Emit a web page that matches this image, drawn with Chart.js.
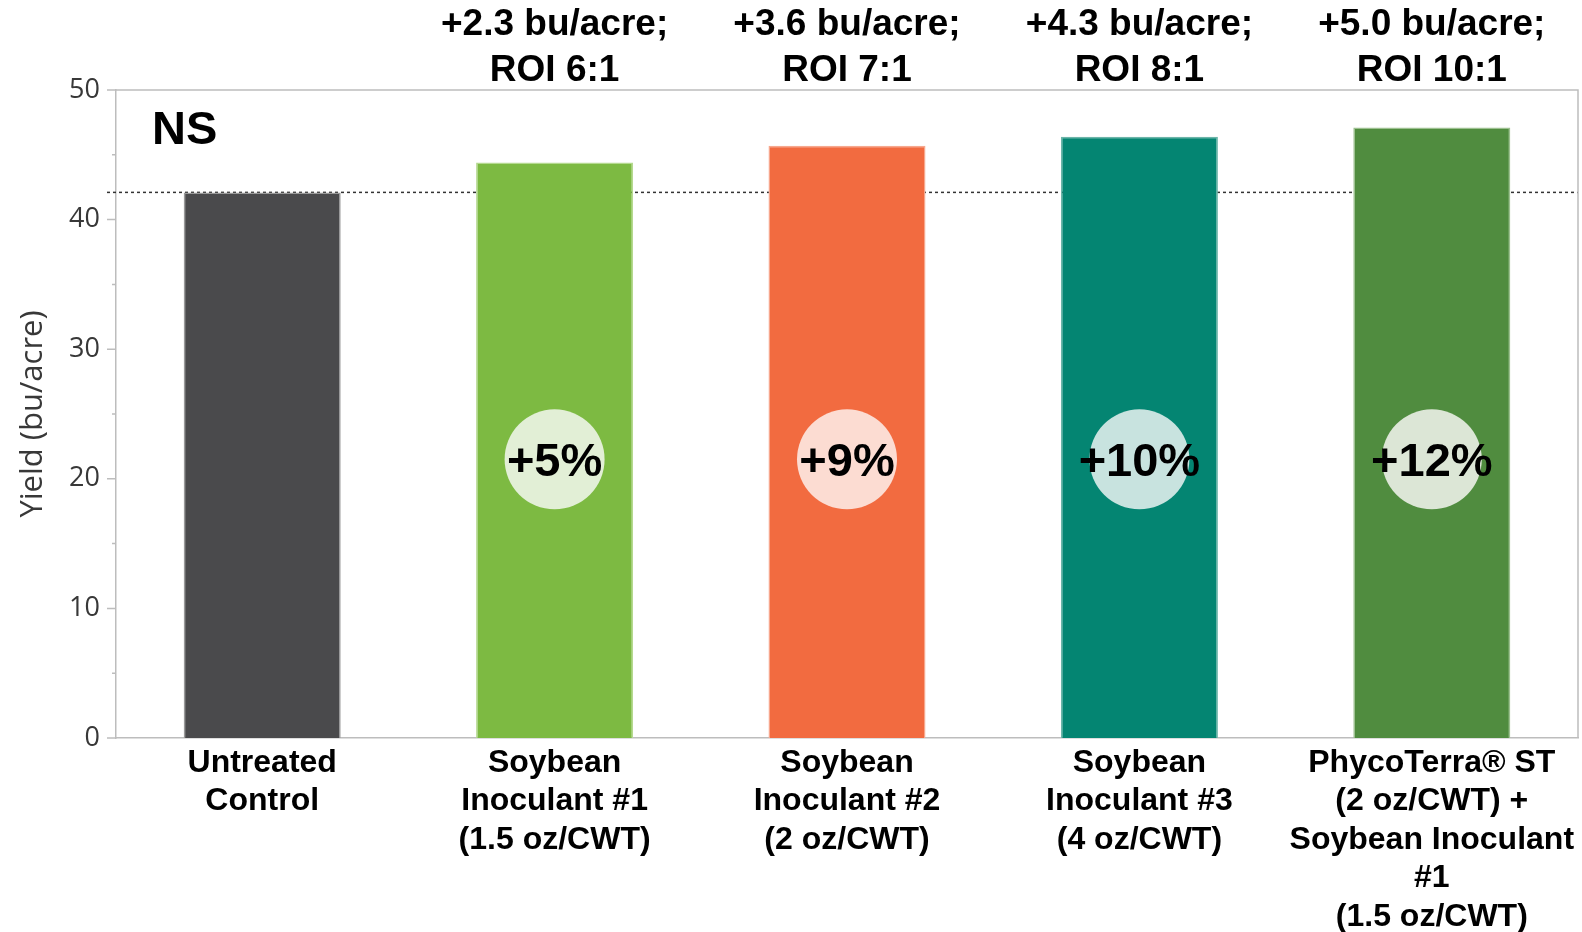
<!DOCTYPE html>
<html>
<head>
<meta charset="utf-8">
<script src="https://cdn.jsdelivr.net/npm/chart.js@4/dist/chart.umd.min.js"></script>
<style>
  html, body { margin: 0; padding: 0; background: #fff; }
  #wrap { width: 1582px; height: 932px; }
</style>
</head>
<body>
<div id="wrap"><canvas id="yieldChart" width="1582" height="932"></canvas></div>
<script>
// data
const categories = [
    ["Untreated", "Control"],
    ["Soybean", "Inoculant #1", "(1.5 oz/CWT)"],
    ["Soybean", "Inoculant #2", "(2 oz/CWT)"],
    ["Soybean", "Inoculant #3", "(4 oz/CWT)"],
    ["PhycoTerra® ST", "(2 oz/CWT) +", "Soybean Inoculant", "#1", "(1.5 oz/CWT)"]
];
const yields = [42.1, 44.4, 45.7, 46.4, 47.1];
const gainLabels = ["", "+2.3 bu/acre;", "+3.6 bu/acre;", "+4.3 bu/acre;", "+5.0 bu/acre;"];
const roiLabels = ["", "ROI 6:1", "ROI 7:1", "ROI 8:1", "ROI 10:1"];
const pctLabels = ["", "+5%", "+9%", "+10%", "+12%"];
const yTicks = [0, 10, 20, 30, 40, 50];

const barColors = ["#4a4a4c", "#7dba42", "#f26b40", "#048572", "#508c3f"];
const edgeColors = ["#9a9a9a", "#b5d98f", "#f7a88e", "#6cb5a9", "#9cc08f"];
const circleColors = ["", "#e2efd6", "#fcdcd2", "#c8e3df", "#dce6d6"];

const boldFont = '"Liberation Sans", Arial, sans-serif';
const axisColor = "#bdbdbd";

const extras = {
    id: "extras",
    beforeDatasetsDraw(chart) {
        const ctx = chart.ctx;
        const y = chart.scales.y;
        const area = chart.chartArea;
        const py = y.getPixelForValue(yields[0]);
        ctx.save();
        ctx.strokeStyle = "#333";
        ctx.lineWidth = 1.5;
        ctx.setLineDash([3, 3]);
        ctx.beginPath();
        ctx.moveTo(area.left - 9, py);
        ctx.lineTo(area.right, py);
        ctx.stroke();
        ctx.restore();
    },
    afterDatasetsDraw(chart) {
        const ctx = chart.ctx;
        const x = chart.scales.x;
        const y = chart.scales.y;
        const area = chart.chartArea;
        const cy = y.getPixelForValue(21.5);
        ctx.save();
        ctx.textAlign = "center";
        ctx.textBaseline = "middle";
        categories.forEach((c, i) => {
            const cx = x.getPixelForValue(i);
            if (pctLabels[i]) {
                ctx.fillStyle = circleColors[i];
                ctx.beginPath();
                ctx.arc(cx, cy, 50, 0, Math.PI * 2);
                ctx.fill();
                ctx.fillStyle = "#000";
                ctx.font = "bold 47px " + boldFont;
                ctx.fillText(pctLabels[i], cx, cy + 4);
            }
            if (gainLabels[i]) {
                ctx.fillStyle = "#000";
                ctx.font = "bold 37px " + boldFont;
                ctx.fillText(gainLabels[i], cx, 25);
                ctx.fillText(roiLabels[i], cx, 71);
            }
        });
        ctx.textAlign = "left";
        ctx.font = "bold 47px " + boldFont;
        ctx.fillStyle = "#000";
        ctx.fillText("NS", area.left + 36, 131);
        ctx.restore();
    },
    afterDraw(chart) {
        const ctx = chart.ctx;
        const y = chart.scales.y;
        const area = chart.chartArea;
        ctx.save();
        ctx.strokeStyle = axisColor;
        ctx.lineWidth = 1.5;
        ctx.beginPath();
        ctx.moveTo(area.left, area.top);
        ctx.lineTo(area.right, area.top);
        ctx.lineTo(area.right, area.bottom);
        for (let v = 0; v <= 50; v += 5) {
            const py = y.getPixelForValue(v);
            const len = v % 10 === 0 ? 9 : 4;
            ctx.moveTo(area.left - len, py);
            ctx.lineTo(area.left, py);
        }
        ctx.stroke();
        ctx.restore();
    }
};

new Chart(document.getElementById("yieldChart"), {
    type: "bar",
    data: {
        labels: categories,
        datasets: [{
            data: yields,
            backgroundColor: barColors,
            borderColor: edgeColors,
            borderWidth: 1.5,
            categoryPercentage: 1,
            barPercentage: 0.537
        }]
    },
    options: {
        responsive: false,
        animation: false,
        layout: {
            padding: { top: 90, right: 4, left: 0, bottom: 0 }
        },
        plugins: {
            legend: { display: false },
            tooltip: { enabled: false }
        },
        scales: {
            x: {
                grid: { display: false, drawTicks: false },
                border: { color: axisColor, width: 1.5 },
                ticks: {
                    color: "#000",
                    padding: 6,
                    maxRotation: 0,
                    autoSkip: false,
                    font: { family: boldFont, size: 32, weight: "bold", lineHeight: 1.2 }
                },
                afterFit(scale) { scale.height = 194; }
            },
            y: {
                min: 0,
                max: 50,
                afterBuildTicks(scale) {
                    scale.ticks = yTicks.map(v => ({ value: v }));
                },
                grid: { display: false, drawTicks: false },
                border: { color: axisColor, width: 1.5 },
                ticks: {
                    color: "#383838",
                    padding: 16,
                    font: { family: '"Open Sans", sans-serif', size: 27 }
                },
                title: {
                    display: true,
                    text: "Yield (bu/acre)",
                    color: "#383838",
                    padding: { top: 15, bottom: 0 },
                    font: { family: '"Open Sans", sans-serif', size: 31 }
                },
                afterFit(scale) { scale.width = 116; }
            }
        }
    },
    plugins: [extras]
});
</script>
</body>
</html>
